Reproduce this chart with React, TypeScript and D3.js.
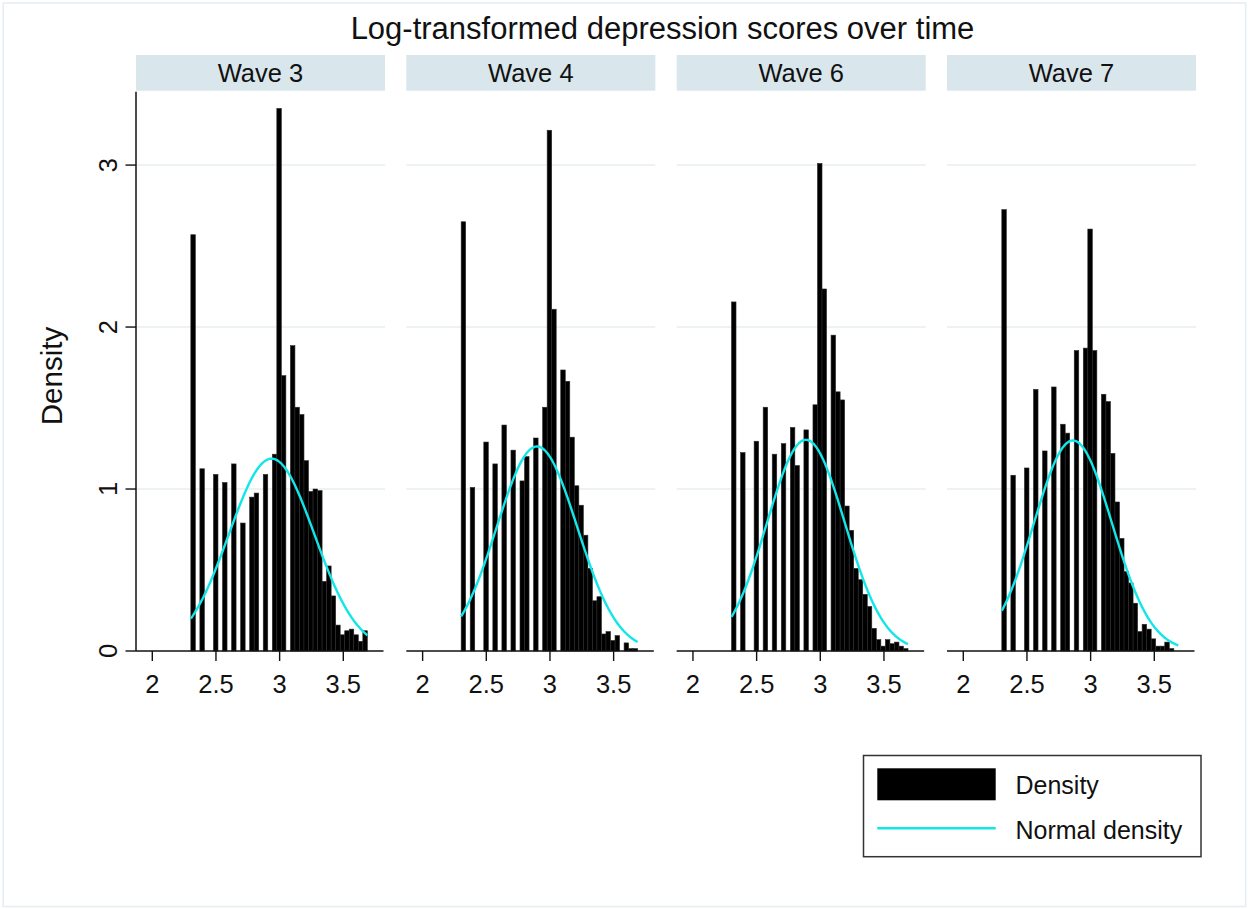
import React from 'react';
import * as d3 from 'd3';

// ---------- data ----------
const chartTitle = 'Log-transformed depression scores over time';
const waveLabels = ['Wave 3', 'Wave 4', 'Wave 6', 'Wave 7'];
const binStart = Math.log(10);
const binEnd = Math.log(40);
const binCount = 39;

// density per bin (39 bins from ln 10 to ln 40)
const wave3 = [2.57, 0, 1.125, 0, 0, 1.09, 0, 1.04, 0, 1.155, 0, 0.79, 0, 0.95, 0.975, 0, 1.09, 0, 1.215, 3.35,
  1.70, 0, 1.885, 1.505, 1.46, 1.175, 0.985, 1.0, 0.99, 0.43, 0.525, 0.34, 0.16, 0.10, 0.125, 0.135, 0.10, 0.06, 0.125];
const wave4 = [2.65, 0, 1.01, 0, 0, 1.29, 0, 1.155, 0, 1.395, 0, 1.24, 0, 1.05, 1.20, 0, 1.315, 0, 1.505, 3.215,
  2.11, 0, 1.735, 1.665, 1.32, 1.02, 0.90, 0.715, 0.51, 0.31, 0.335, 0.105, 0.12, 0.065, 0.095, 0, 0.05, 0.015, 0.015];
const wave6 = [2.155, 0, 1.225, 0, 0, 1.295, 0, 1.505, 0, 1.215, 0, 1.28, 0, 1.38, 1.145, 0, 1.365, 0, 1.52, 3.01,
  2.235, 0, 1.95, 1.60, 1.55, 0.895, 0.745, 0.51, 0.44, 0.35, 0.275, 0.14, 0.07, 0.03, 0.07, 0.045, 0.055, 0.03, 0.015];
const wave7 = [2.725, 0, 1.085, 0, 0, 1.13, 0, 1.615, 0, 1.235, 0, 1.63, 0, 1.40, 1.345, 0, 1.855, 0, 1.87, 2.605,
  1.855, 0, 1.585, 1.54, 1.22, 0.92, 0.695, 0.49, 0.42, 0.295, 0.12, 0.165, 0.135, 0.075, 0.03, 0.03, 0.055, 0.015, 0];
const waveDensities = [wave3, wave4, wave6, wave7];

// normal density parameters per wave
const normalMean = [2.937, 2.898, 2.887, 2.861];
const normalSd = [0.336, 0.316, 0.306, 0.307];

const xTicks = [2, 2.5, 3, 3.5];
const yTicks = [0, 1, 2, 3];
const legendLabels = ['Density', 'Normal density'];

// ---------- layout ----------
const W = 1248;
const H = 909;
const FONT = "'Liberation Sans', Arial, Helvetica, sans-serif";
const panelX0 = 136;
const panelStep = 270.33;
const panelW = 249;
const plotTop = 91.7;
const plotBottom = 651;
const stripTop = 55;
const stripH = 35.7;
const CYAN = '#12e6e8';

const xDomain = [1.872, 3.8275];
const yDomain = [0, 3.453];

function Panel({ i }: { i: number }) {
  const left = panelX0 + i * panelStep;
  const x = d3.scaleLinear().domain(xDomain).range([left, left + panelW]);
  const y = d3.scaleLinear().domain(yDomain).range([plotBottom, plotTop]);
  const bw = (binEnd - binStart) / binCount;
  const dens = waveDensities[i];
  const mu = normalMean[i];
  const sd = normalSd[i];
  const pdf = (v: number) => Math.exp(-0.5 * ((v - mu) / sd) ** 2) / (sd * Math.sqrt(2 * Math.PI));
  const pts = d3.range(0, 201).map((k) => binStart + (binEnd - binStart) * (k / 200));
  const line = d3
    .line<number>()
    .x((v) => x(v))
    .y((v) => y(pdf(v)))
    .curve(d3.curveLinear);

  return (
    <g>
      {/* strip */}
      <rect x={left} y={stripTop} width={panelW} height={stripH} fill="#d9e6ec" />
      <text x={left + panelW / 2} y={81.5} textAnchor="middle" fontSize={25.5} fontFamily={FONT} fill="#111">
        {waveLabels[i]}
      </text>
      {/* grid */}
      {yTicks.filter((t) => t > 0).map((t) => (
        <line key={t} x1={left} x2={left + panelW} y1={y(t)} y2={y(t)} stroke="#e7eff2" strokeWidth={1.5} />
      ))}
      {/* bars */}
      {dens.map((d, k) =>
        d > 0 ? (
          <rect
            key={k}
            x={x(binStart + k * bw)}
            y={y(d)}
            width={x(binStart + (k + 1) * bw) - x(binStart + k * bw)}
            height={y(0) - y(d)}
            fill="#000"
            stroke="#2a2a2a"
            strokeWidth={0.6}
          />
        ) : null
      )}
      {/* normal curve */}
      <path d={line(pts) || ''} fill="none" stroke={CYAN} strokeWidth={2.4} />
      {/* x axis */}
      <line x1={left} x2={left + panelW - 1.5} y1={plotBottom} y2={plotBottom} stroke="#111" strokeWidth={1.5} />
      {xTicks.map((t) => (
        <g key={t}>
          <line x1={x(t)} x2={x(t)} y1={plotBottom} y2={plotBottom + 10} stroke="#111" strokeWidth={1.4} />
          <text x={x(t)} y={692.5} textAnchor="middle" fontSize={25.5} fontFamily={FONT} fill="#111">
            {String(t)}
          </text>
        </g>
      ))}
      {i === 0 && (
        <g>
          <line x1={left} x2={left} y1={plotTop} y2={plotBottom} stroke="#111" strokeWidth={1.5} />
          {yTicks.map((t) => (
            <g key={t}>
              <line x1={left - 10.5} x2={left} y1={y(t)} y2={y(t)} stroke="#111" strokeWidth={1.4} />
              <text
                transform={`translate(116.5, ${y(t)}) rotate(-90)`}
                textAnchor="middle"
                fontSize={25.5}
                fontFamily={FONT}
                fill="#111"
              >
                {String(t)}
              </text>
            </g>
          ))}
        </g>
      )}
    </g>
  );
}

export default function App() {
  return (
    <div style={{ position: 'absolute', left: 0, top: 0 }}>
      <svg width={W} height={H} viewBox={`0 0 ${W} ${H}`} style={{ display: 'block', background: '#fff' }}>
        <rect x={0} y={0} width={W} height={H} fill="#fff" />
        <rect x={3.2} y={3} width={W - 5.6} height={H - 5.5} fill="none" stroke="#e6eef2" strokeWidth={1.6} />
        <text x={662.5} y={39.3} textAnchor="middle" fontSize={31} fontFamily={FONT} fill="#111">
          {chartTitle}
        </text>
        <text
          transform={`translate(61.5, 376) rotate(-90)`}
          textAnchor="middle"
          fontSize={29.5}
          fontFamily={FONT}
          fill="#111"
        >
          Density
        </text>
        {waveLabels.map((_, i) => (
          <Panel key={i} i={i} />
        ))}
        {/* legend */}
        <g>
          <rect x={863.5} y={755.5} width={337.5} height={101.2} fill="#fff" stroke="#333" strokeWidth={1.5} />
          <rect x={877.3} y={768.3} width={118.4} height={32} fill="#000" />
          <line x1={877.3} x2={995.7} y1={828.3} y2={828.3} stroke={CYAN} strokeWidth={2.4} />
          <text x={1015.5} y={794} fontSize={25} fontFamily={FONT} fill="#111">
            {legendLabels[0]}
          </text>
          <text x={1015.5} y={839.3} fontSize={25} fontFamily={FONT} fill="#111">
            {legendLabels[1]}
          </text>
        </g>
      </svg>
    </div>
  );
}
